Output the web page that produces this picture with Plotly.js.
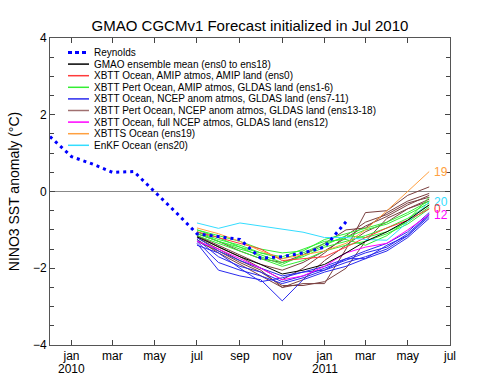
<!DOCTYPE html>
<html>
<head>
<meta charset="utf-8">
<script src="https://cdn.plot.ly/plotly-3.0.1.min.js"></script>
<style>html,body{margin:0;padding:0;background:#fff;}#chart{width:500px;height:384px;}</style>
</head>
<body>
<div id="chart"></div>
<script>
// ---- Observed (Reynolds) ----
const reynoldsDates = ['2009-12-01','2010-01-01','2010-02-01','2010-03-01','2010-04-01','2010-05-01','2010-06-01','2010-07-01','2010-08-01','2010-09-01','2010-10-01','2010-11-01','2010-12-01','2011-01-01','2011-02-01'];
const reynolds = [1.43, 0.91, 0.71, 0.50, 0.52, 0.0, -0.55, -1.1, -1.18, -1.25, -1.74, -1.70, -1.6, -1.45, -0.79];

// ---- Forecast (Jul 2010 .. Jun 2011) ----
const fcstDates = ['2010-07-01','2010-08-01','2010-09-01','2010-10-01','2010-11-01','2010-12-01','2011-01-01','2011-02-01','2011-03-01','2011-04-01','2011-05-01','2011-06-01'];

const ensMean = [-1.18, -1.45, -1.7, -1.9, -2.15, -2.05, -1.9, -1.6, -1.3, -1.05, -0.75, -0.35];
const ens0 = [-1.05, -1.2, -1.35, -1.5, -1.8, -1.75, -1.7, -1.45, -1.2, -0.95, -0.75, -0.45];
const ens1to6 = [
  [-1.0, -1.15, -1.3, -1.5, -1.6, -1.55, -1.25, -1.1, -0.95, -0.8, -0.55, -0.25],
  [-1.05, -1.25, -1.4, -1.6, -1.75, -1.6, -1.35, -1.2, -1.0, -0.85, -0.6, -0.3],
  [-1.1, -1.3, -1.5, -1.65, -1.85, -1.7, -1.45, -1.3, -1.15, -0.95, -0.7, -0.35],
  [-1.0, -1.2, -1.45, -1.7, -1.9, -1.65, -1.4, -1.15, -1.2, -1.05, -0.8, -0.4],
  [-1.15, -1.35, -1.55, -1.75, -1.95, -1.8, -1.55, -1.4, -1.3, -1.1, -0.85, -0.45],
  [-1.05, -1.3, -1.45, -1.6, -1.7, -1.5, -1.3, -1.25, -1.4, -1.15, -0.75, -0.15]
];
const ens7to11 = [
  [-1.2, -1.55, -1.8, -2.0, -2.2, -2.1, -1.95, -1.75, -1.55, -1.35, -1.05, -0.55],
  [-1.25, -1.7, -1.95, -2.1, -2.35, -2.2, -2.0, -1.8, -1.6, -1.45, -1.1, -0.6],
  [-1.3, -1.85, -2.05, -2.2, -2.4, -2.25, -2.05, -1.85, -1.7, -1.5, -1.15, -0.65],
  [-1.35, -2.05, -2.2, -2.3, -2.85, -2.3, -2.1, -1.95, -1.75, -1.55, -1.2, -0.7],
  [-1.4, -1.6, -2.0, -2.35, -2.25, -2.1, -2.05, -1.75, -1.75, -1.4, -1.15, -0.6]
];
const ens12 = [-1.3, -1.5, -1.75, -2.0, -2.3, -2.2, -1.95, -1.6, -1.45, -1.35, -1.0, -0.6];
const ens13to18 = [
  [-1.1, -1.3, -1.55, -1.75, -1.85, -1.65, -1.35, -1.0, -0.95, -0.55, -0.25, -0.05],
  [-1.15, -1.4, -1.65, -1.9, -2.05, -1.85, -1.55, -1.2, -0.9, -0.65, -0.35, -0.1],
  [-1.2, -1.5, -1.8, -2.05, -2.5, -2.3, -1.8, -1.4, -1.05, -0.8, -0.45, -0.2],
  [-1.25, -1.6, -1.9, -2.2, -2.5, -2.4, -2.4, -1.5, -0.55, -0.5, -0.1, 0.12],
  [-1.15, -1.45, -1.7, -2.0, -2.3, -2.0, -1.6, -1.15, -0.8, -0.6, -0.3, -0.15],
  [-1.3, -1.55, -1.85, -2.1, -2.45, -2.45, -2.35, -2.0, -1.3, -0.7, -0.45, -0.25]
];
const ens19 = [-0.95, -1.1, -1.3, -1.55, -1.75, -1.65, -1.55, -1.35, -1.0, -0.5, 0.0, 0.52];
const ens20 = [-0.82, -0.96, -0.82, -0.9, -0.98, -1.06, -1.2, -1.2, -1.25, -1.27, -0.8, -0.27];

// ---- Axis ticks ----
const xTickVals = ['2010-01-01','2010-03-01','2010-05-01','2010-07-01','2010-09-01','2010-11-01','2011-01-01','2011-03-01','2011-05-01','2011-07-01'];
const xTickText = ['jan','mar','may','jul','sep','nov','jan','mar','may','jul'];
const yearVals = ['2010-01-01','2011-01-01'];
const yearText = ['2010','2011'];

// ---- Legend ----
const legendLabels = [
  'Reynolds',
  'GMAO ensemble mean (ens0 to ens18)',
  'XBTT Ocean, AMIP atmos, AMIP land (ens0)',
  'XBTT Pert Ocean, AMIP atmos, GLDAS land (ens1-6)',
  'XBTT Ocean, NCEP anom atmos, GLDAS land (ens7-11)',
  'XBTT Pert Ocean, NCEP anom atmos, GLDAS land (ens13-18)',
  'XBTT Ocean, full NCEP atmos, GLDAS land (ens12)',
  'XBTTS Ocean (ens19)',
  'EnKF Ocean (ens20)'
];
const C = {rey:'#0000ff', mean:'#000000', red:'#ff3b3b', green:'#33ee33', blue:'#2a2aee', brown:'#7a4040', magenta:'#ff00ff', orange:'#ffa040', cyan:'#33ddff'};
const legendColors = [C.rey, C.mean, C.red, C.green, C.blue, '#a07070', C.magenta, C.orange, C.cyan];

// ---- Traces ----
const traces = [];
function line(y, color, width) {
  traces.push({x: fcstDates, y: y, type: 'scatter', mode: 'lines', line: {color: color, width: width || 1}, showlegend: false, hoverinfo: 'skip'});
}
ens13to18.forEach(s => line(s, C.brown));
ens7to11.forEach(s => line(s, C.blue));
ens1to6.forEach(s => line(s, C.green));
line(ens12, C.magenta);
line(ens0, C.red);
line(ens20, C.cyan);
line(ens19, C.orange);
line(ensMean, C.mean);
traces.push({x: reynoldsDates, y: reynolds, type: 'scatter', mode: 'lines', line: {color: C.rey, width: 3, dash: '3px,4px'}, showlegend: false, hoverinfo: 'skip'});

// ---- Layout ----
const W = 500, H = 384, M = {l: 50, r: 50, t: 38, b: 39};
const pw = W - M.l - M.r, ph = H - M.t - M.b;
const px2x = p => (p - M.l) / pw;
const py2y = p => (H - M.b - p) / ph;

const shapes = [];
const annotations = [];
legendLabels.forEach((lab, i) => {
  const yy = py2y(52.5 + i * 11.6);
  const sh = {type: 'line', xref: 'paper', yref: 'paper', x0: px2x(68), x1: px2x(89), y0: yy, y1: yy,
    line: {color: legendColors[i], width: i === 0 ? 3 : 1.5}};
  if (i === 0) sh.line.dash = '4px,3px';
  shapes.push(sh);
  annotations.push({xref: 'paper', yref: 'paper', x: px2x(92), y: yy, xanchor: 'left', yanchor: 'middle',
    text: lab, showarrow: false, font: {size: 10, color: '#000'}});
});
yearVals.forEach((v, i) => {
  annotations.push({xref: 'x', yref: 'paper', x: v, y: 0, yanchor: 'top', yshift: -15, text: yearText[i],
    showarrow: false, font: {size: 12, color: '#000'}});
});
const endLabels = [['19', ens19, C.orange], ['20', ens20, C.cyan], ['0', ens0, C.red], ['12', ens12, C.magenta]];
endLabels.forEach(([t, s, c]) => {
  annotations.push({xref: 'x', yref: 'y', x: fcstDates[fcstDates.length - 1], y: s[s.length - 1], xanchor: 'left', yanchor: 'middle',
    xshift: 3, text: t, showarrow: false, font: {size: 12, color: c}});
});

const layout = {
  width: W, height: H, margin: M,
  paper_bgcolor: '#fff', plot_bgcolor: '#fff',
  font: {family: 'Liberation Sans, Arial, sans-serif', color: '#000'},
  showlegend: false,
  title: {text: 'GMAO CGCMv1 Forecast initialized in Jul 2010', font: {size: 15, color: '#000'}, x: 0.5, xanchor: 'center', y: 1 - 26 / H, yanchor: 'middle'},
  xaxis: {type: 'date', range: ['2009-12-01', '2011-07-01'], tickvals: xTickVals, ticktext: xTickText,
    ticks: 'inside', ticklen: 5, tickcolor: '#444', showline: true, linecolor: '#555', linewidth: 1, mirror: 'allticks',
    showgrid: false, zeroline: false, tickfont: {size: 12}},
  yaxis: {range: [-4, 4], dtick: 2, tick0: 0, ticks: 'inside', ticklen: 5, tickcolor: '#444',
    minor: {dtick: 0.5, ticks: 'inside', ticklen: 4, tickcolor: '#444', showgrid: false},
    showline: true, linecolor: '#555', linewidth: 1, mirror: 'allticks', showgrid: false,
    zeroline: true, zerolinecolor: '#888', zerolinewidth: 1, tickfont: {size: 12},
    title: {text: 'NINO3 SST anomaly (°C)', font: {size: 14}, standoff: 10}},
  shapes: shapes, annotations: annotations
};
Plotly.newPlot('chart', traces, layout, {staticPlot: true, displayModeBar: false});
</script>
</body>
</html>
